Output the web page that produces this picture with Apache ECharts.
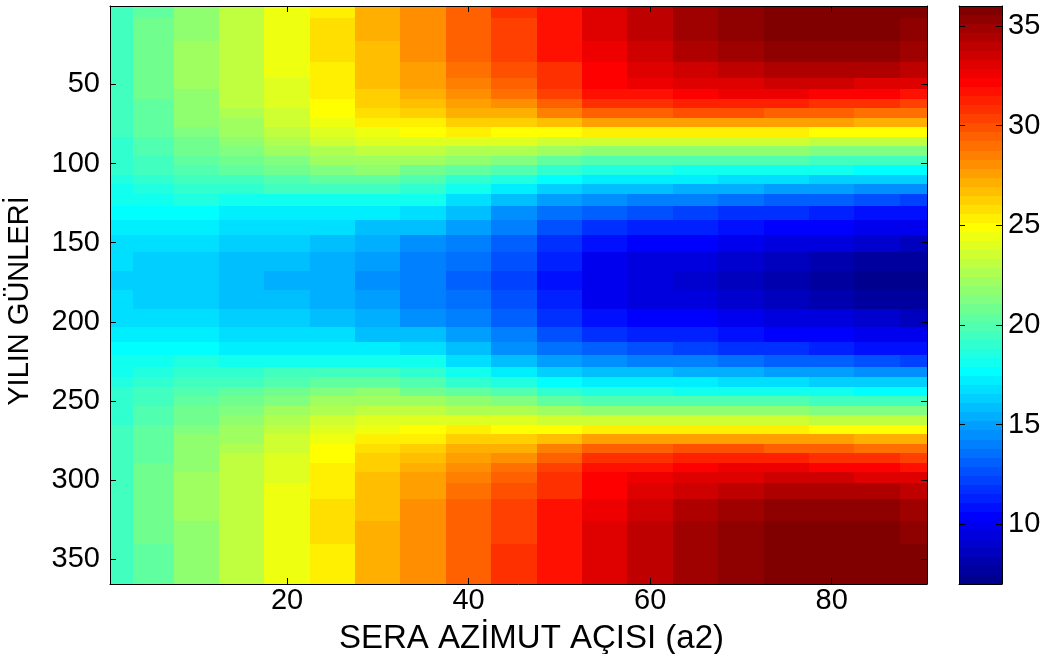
<!DOCTYPE html>
<html>
<head>
<meta charset="utf-8">
<script src="https://cdn.jsdelivr.net/npm/echarts@6/dist/echarts.min.js"></script>
<style>
  html, body { margin: 0; padding: 0; background: #ffffff; }
  #chart { width: 1056px; height: 654px; }
</style>
</head>
<body>
<div id="chart"></div>
<script>
// Greenhouse azimuth angle (columns) against day of the year (rows).
const azimuth = [1, 5, 10, 15, 20, 25, 30, 35, 40, 45, 50, 55, 60, 65, 70, 75, 80, 85, 90];

const days = [1, 15, 30, 42, 50, 56, 62, 68, 74, 80, 86, 92, 98, 104, 110, 116, 123, 131, 140, 150, 162, 174,
              186, 198, 208, 217, 225, 232, 238, 244, 250, 256, 262, 268, 274, 280, 286, 292, 298, 306, 318, 333, 348, 360];

// One row per entry of `days`, one column per entry of `azimuth`.
const cellValues = [
  [19.4,20.5,21.8,23.0,24.3,25.5,27.0,28.2,29.6,30.6,31.9,33.1,34.0,34.8,35.5,35.9,36.0,35.8,35.6],
  [19.4,20.6,21.9,23.1,24.4,25.6,27.0,28.1,29.5,30.5,31.8,33.0,33.9,34.7,35.4,35.8,35.9,35.7,35.4],
  [19.4,20.6,22.0,23.2,24.4,25.6,26.9,27.9,29.3,30.2,31.5,32.7,33.6,34.3,34.9,35.3,35.4,35.2,34.9],
  [19.4,20.6,22.0,23.2,24.3,25.5,26.8,27.8,28.9,29.7,31.0,32.3,33.0,33.5,34.0,34.3,34.4,34.2,34.0],
  [19.4,20.6,22.0,23.1,24.2,25.4,26.6,27.6,28.6,29.3,30.6,32.0,32.5,32.9,33.2,33.3,33.3,33.1,32.9],
  [19.4,20.6,21.9,23.0,24.1,25.2,26.4,27.2,28.2,28.8,30.2,31.5,31.9,32.2,32.4,32.4,32.3,32.1,31.9],
  [19.4,20.5,21.8,22.9,23.9,25.0,26.1,26.8,27.7,28.2,29.5,30.6,31.0,31.2,31.2,31.1,30.9,30.7,30.5],
  [19.4,20.4,21.6,22.7,23.7,24.7,25.7,26.2,27.0,27.2,28.3,29.3,29.6,29.7,29.7,29.6,29.4,29.2,29.0],
  [19.3,20.3,21.5,22.4,23.4,24.3,25.2,25.5,26.1,26.1,26.8,27.4,27.6,27.7,27.7,27.6,27.4,27.2,27.0],
  [19.3,20.2,21.3,22.1,23.0,23.9,24.6,24.8,25.2,25.0,25.1,25.2,25.3,25.4,25.3,25.2,25.0,24.9,24.8],
  [19.2,20.0,21.0,21.8,22.6,23.4,24.0,24.0,24.1,23.8,23.6,23.4,23.4,23.5,23.5,23.4,23.2,23.1,23.0],
  [19.2,19.8,20.7,21.3,22.1,22.8,23.3,23.1,22.8,22.5,22.1,21.8,21.7,21.7,21.6,21.5,21.4,21.3,21.2],
  [19.0,19.6,20.3,20.8,21.4,22.0,22.4,22.1,21.5,21.2,20.5,20.1,20.0,19.9,19.8,19.7,19.6,19.5,19.4],
  [18.9,19.3,19.8,20.2,20.7,21.2,21.5,21.0,20.2,19.9,19.0,18.6,18.6,18.3,18.2,18.1,18.0,17.8,17.7],
  [18.6,19.0,19.3,19.6,20.0,20.4,20.5,20.0,19.0,18.6,17.6,17.3,17.2,17.0,16.8,16.7,16.5,16.3,16.2],
  [18.3,18.6,18.9,19.0,19.3,19.6,19.5,19.0,18.0,17.3,16.3,15.9,15.7,15.5,15.2,15.0,14.8,14.5,14.3],
  [17.9,18.1,18.4,18.3,18.2,18.3,18.3,17.9,16.9,15.9,14.9,14.4,14.2,13.8,13.5,13.2,12.9,12.6,12.4],
  [17.6,17.6,17.5,17.3,17.2,17.1,17.0,16.8,15.8,14.7,13.6,13.0,12.6,12.2,11.9,11.6,11.3,11.0,10.8],
  [17.2,17.1,17.0,16.8,16.6,16.6,16.0,15.7,14.8,13.9,12.5,11.8,11.4,11.1,10.8,10.6,10.3,10.0, 9.8],
  [16.8,16.7,16.6,16.3,16.1,15.9,15.2,14.7,14.0,13.2,11.7,10.8,10.4,10.2, 9.9, 9.6, 9.3, 9.0, 8.8],
  [16.6,16.5,16.3,16.0,15.7,15.4,14.8,14.1,13.4,12.5,11.1,10.1, 9.7, 9.3, 8.9, 8.5, 8.2, 7.9, 7.7],
  [16.5,16.4,16.2,15.9,15.5,15.2,14.6,13.9,13.1,12.2,10.9, 9.9, 9.4, 9.0, 8.6, 8.2, 7.8, 7.4, 7.1],
  [16.6,16.5,16.3,16.0,15.7,15.4,14.8,14.1,13.4,12.5,11.1,10.1, 9.7, 9.3, 8.9, 8.5, 8.2, 7.9, 7.7],
  [16.8,16.7,16.6,16.3,16.1,15.9,15.2,14.7,14.0,13.2,11.7,10.8,10.4,10.2, 9.9, 9.6, 9.3, 9.0, 8.8],
  [17.2,17.1,17.0,16.8,16.6,16.6,16.0,15.7,14.8,13.9,12.5,11.8,11.4,11.1,10.8,10.6,10.3,10.0, 9.8],
  [17.6,17.6,17.5,17.3,17.2,17.1,17.0,16.8,15.8,14.7,13.6,13.0,12.6,12.2,11.9,11.6,11.3,11.0,10.8],
  [17.9,18.1,18.4,18.3,18.2,18.3,18.3,17.9,16.9,15.9,14.9,14.4,14.2,13.8,13.5,13.2,12.9,12.6,12.4],
  [18.3,18.6,18.9,19.0,19.3,19.6,19.5,19.0,18.0,17.3,16.3,15.9,15.7,15.5,15.2,15.0,14.8,14.5,14.3],
  [18.6,19.0,19.3,19.6,20.0,20.4,20.5,20.0,19.0,18.6,17.6,17.3,17.2,17.0,16.8,16.7,16.5,16.3,16.2],
  [18.9,19.3,19.8,20.2,20.7,21.2,21.5,21.0,20.2,19.9,19.0,18.6,18.6,18.3,18.2,18.1,18.0,17.8,17.7],
  [19.0,19.6,20.3,20.8,21.4,22.0,22.4,22.1,21.5,21.2,20.5,20.1,20.0,19.9,19.8,19.7,19.6,19.5,19.4],
  [19.2,19.8,20.7,21.3,22.1,22.8,23.3,23.1,22.8,22.5,22.1,21.8,21.7,21.7,21.6,21.5,21.4,21.3,21.2],
  [19.2,20.0,21.0,21.8,22.6,23.4,24.0,24.0,24.1,23.8,23.6,23.4,23.4,23.5,23.5,23.4,23.2,23.1,23.0],
  [19.3,20.2,21.3,22.1,23.0,23.9,24.6,24.8,25.2,25.0,25.1,25.2,25.3,25.4,25.3,25.2,25.0,24.9,24.8],
  [19.3,20.3,21.5,22.4,23.4,24.3,25.2,25.5,26.1,26.1,26.8,27.4,27.6,27.7,27.7,27.6,27.4,27.2,27.0],
  [19.4,20.4,21.6,22.7,23.7,24.7,25.7,26.2,27.0,27.2,28.3,29.3,29.6,29.7,29.7,29.6,29.4,29.2,29.0],
  [19.4,20.5,21.8,22.9,23.9,25.0,26.1,26.8,27.7,28.2,29.5,30.6,31.0,31.2,31.2,31.1,30.9,30.7,30.5],
  [19.4,20.6,21.9,23.0,24.1,25.2,26.4,27.2,28.2,28.8,30.2,31.5,31.9,32.2,32.4,32.4,32.3,32.1,31.9],
  [19.4,20.6,22.0,23.1,24.2,25.4,26.6,27.6,28.6,29.3,30.6,32.0,32.5,32.9,33.2,33.3,33.3,33.1,32.9],
  [19.4,20.6,22.0,23.2,24.3,25.5,26.8,27.8,28.9,29.7,31.0,32.3,33.0,33.5,34.0,34.3,34.4,34.2,34.0],
  [19.4,20.6,22.0,23.2,24.4,25.6,26.9,27.9,29.3,30.2,31.5,32.7,33.6,34.3,34.9,35.3,35.4,35.2,34.9],
  [19.4,20.6,21.9,23.1,24.4,25.6,27.0,28.1,29.5,30.5,31.8,33.0,33.9,34.7,35.4,35.8,35.9,35.7,35.4],
  [19.4,20.5,21.8,23.0,24.3,25.5,27.0,28.2,29.6,30.6,31.9,33.1,34.0,34.8,35.5,35.9,36.0,35.8,35.6],
  [19.4,20.5,21.8,23.0,24.3,25.5,27.0,28.2,29.6,30.6,31.9,33.1,34.0,34.8,35.5,35.9,36.0,35.8,35.6]
];

const azimuthTicks = [20, 40, 60, 80];
const dayTicks = [50, 100, 150, 200, 250, 300, 350];
const colorTicks = [10, 15, 20, 25, 30, 35];
const colorMin = 7.0;
const colorMax = 36.0;

const FONT = '"Liberation Sans", Arial, Helvetica, sans-serif';

// Classic 64-step "jet" palette.
function jetPalette(n) {
  const m = Math.ceil(n / 4);
  const u = [];
  for (let i = 1; i <= m; i++) u.push(i / m);
  for (let i = 0; i < m - 1; i++) u.push(1);
  for (let i = m; i >= 1; i--) u.push(i / m);
  const off = Math.ceil(m / 2) - (n % 4 === 1 ? 1 : 0);
  const g = u.map((_, i) => off + i + 1);
  const r = g.map(v => v + m).filter(v => v <= n);
  const b = g.map(v => v - m).filter(v => v >= 1);
  const gg = g.filter(v => v <= n);
  const cols = Array.from({ length: n }, () => [0, 0, 0]);
  r.forEach((idx, i) => { cols[idx - 1][0] = u[i]; });
  gg.forEach((idx, i) => { cols[idx - 1][1] = u[i]; });
  b.forEach((idx, i) => { cols[idx - 1][2] = u[u.length - b.length + i]; });
  return cols.map(c => 'rgb(' + c.map(x => Math.round(x * 255)).join(',') + ')');
}
const LEVELS = 64;
const palette = jetPalette(LEVELS);
function levelOf(v) {
  const k = Math.floor((v - colorMin) / (colorMax - colorMin) * LEVELS);
  return Math.max(0, Math.min(LEVELS - 1, k));
}

// Cell edges sit halfway between neighbouring sample positions.
function edges(centers, lo, hi) {
  const e = [lo];
  for (let i = 1; i < centers.length; i++) e.push((centers[i - 1] + centers[i]) / 2);
  e.push(hi);
  return e;
}
const azEdges = edges(azimuth, 0.5, 90.5);
const dayEdges = edges(days, 0.5, 365.5);

const cells = [];
days.forEach((d, i) => {
  azimuth.forEach((a, j) => {
    cells.push([a, d, cellValues[i][j], azEdges[j], azEdges[j + 1], dayEdges[i], dayEdges[i + 1]]);
  });
});
const barLevels = palette.map((_, k) => [0.5, colorMin + (k + 0.5) * (colorMax - colorMin) / LEVELS, k]);

const chart = echarts.init(document.getElementById('chart'), null, { renderer: 'canvas' });

const boxLine = { show: true, onZero: false, lineStyle: { color: '#000', width: 1 } };
const tickStyle = { color: '#000', width: 1 };
const labelStyle = { color: '#000', fontSize: 29, fontFamily: FONT };

function rectFor(api, xa, xb, ya, yb, fill) {
  const p0 = api.coord([xa, ya]);
  const p1 = api.coord([xb, yb]);
  const x0 = Math.round(Math.min(p0[0], p1[0]));
  const x1 = Math.round(Math.max(p0[0], p1[0]));
  const y0 = Math.round(Math.min(p0[1], p1[1]));
  const y1 = Math.round(Math.max(p0[1], p1[1]));
  return { type: 'rect', shape: { x: x0, y: y0, width: x1 - x0, height: y1 - y0 }, style: { fill: fill } };
}

chart.setOption({
  backgroundColor: '#ffffff',
  animation: false,
  grid: [
    { left: 110, top: 6, width: 817, height: 578, containLabel: false, outerBoundsMode: 'none' },
    { left: 959, top: 6, width: 43, height: 578, containLabel: false, outerBoundsMode: 'none' }
  ],
  xAxis: [
    {
      gridIndex: 0, type: 'value', min: 0.5, max: 90.5, position: 'bottom', z: 10,
      axisLine: boxLine,
      axisTick: { show: true, inside: true, length: 6, customValues: azimuthTicks, lineStyle: tickStyle },
      axisLabel: Object.assign({ customValues: azimuthTicks, margin: 2 }, labelStyle),
      splitLine: { show: false },
      name: 'SERA AZİMUT AÇISI (a2)', nameLocation: 'middle', nameGap: 38,
      nameTextStyle: { color: '#000', fontSize: 33, fontFamily: FONT, padding: [0, 0, 0, 26] }
    },
    {
      gridIndex: 0, type: 'value', min: 0.5, max: 90.5, position: 'top', z: 10,
      axisLine: boxLine,
      axisTick: { show: true, inside: true, length: 6, customValues: azimuthTicks, lineStyle: tickStyle },
      axisLabel: { show: false }, splitLine: { show: false }
    },
    {
      gridIndex: 1, type: 'value', min: 0, max: 1, position: 'bottom', z: 10,
      axisLine: boxLine, axisTick: { show: false }, axisLabel: { show: false }, splitLine: { show: false }
    },
    {
      gridIndex: 1, type: 'value', min: 0, max: 1, position: 'top', z: 10,
      axisLine: boxLine, axisTick: { show: false }, axisLabel: { show: false }, splitLine: { show: false }
    }
  ],
  yAxis: [
    {
      gridIndex: 0, type: 'value', inverse: true, min: 0.5, max: 365.5, position: 'left', z: 10,
      axisLine: boxLine,
      axisTick: { show: true, inside: true, length: 6, customValues: dayTicks, lineStyle: tickStyle },
      axisLabel: Object.assign({ customValues: dayTicks, margin: 10 }, labelStyle),
      splitLine: { show: false },
      name: 'YILIN GÜNLERİ', nameLocation: 'middle', nameGap: 76, nameRotate: 90,
      nameTextStyle: { color: '#000', fontSize: 29, fontFamily: FONT, padding: [0, 12, 0, 0] }
    },
    {
      gridIndex: 0, type: 'value', inverse: true, min: 0.5, max: 365.5, position: 'right', z: 10,
      axisLine: boxLine,
      axisTick: { show: true, inside: true, length: 6, customValues: dayTicks, lineStyle: tickStyle },
      axisLabel: { show: false }, splitLine: { show: false }
    },
    {
      gridIndex: 1, type: 'value', min: colorMin, max: colorMax, position: 'right', z: 10,
      axisLine: boxLine,
      axisTick: { show: true, inside: true, length: 6, customValues: colorTicks, lineStyle: tickStyle },
      axisLabel: Object.assign({ customValues: colorTicks, margin: 6 }, labelStyle),
      splitLine: { show: false }
    },
    {
      gridIndex: 1, type: 'value', min: colorMin, max: colorMax, position: 'left', z: 10,
      axisLine: boxLine,
      axisTick: { show: true, inside: true, length: 6, customValues: colorTicks, lineStyle: tickStyle },
      axisLabel: { show: false }, splitLine: { show: false }
    }
  ],
  series: [
    {
      type: 'custom',
      xAxisIndex: 0, yAxisIndex: 0,
      encode: { x: 0, y: 1 },
      data: cells,
      renderItem: function (params, api) {
        return rectFor(api, api.value(3), api.value(4), api.value(5), api.value(6),
                       palette[levelOf(api.value(2))]);
      }
    },
    {
      type: 'custom',
      xAxisIndex: 2, yAxisIndex: 2,
      encode: { x: 0, y: 1 },
      data: barLevels,
      renderItem: function (params, api) {
        const k = api.value(2);
        const step = (colorMax - colorMin) / LEVELS;
        const lo = colorMin + k * step;
        return rectFor(api, 0, 1, lo, lo + step, palette[k]);
      }
    }
  ]
});
</script>
</body>
</html>
